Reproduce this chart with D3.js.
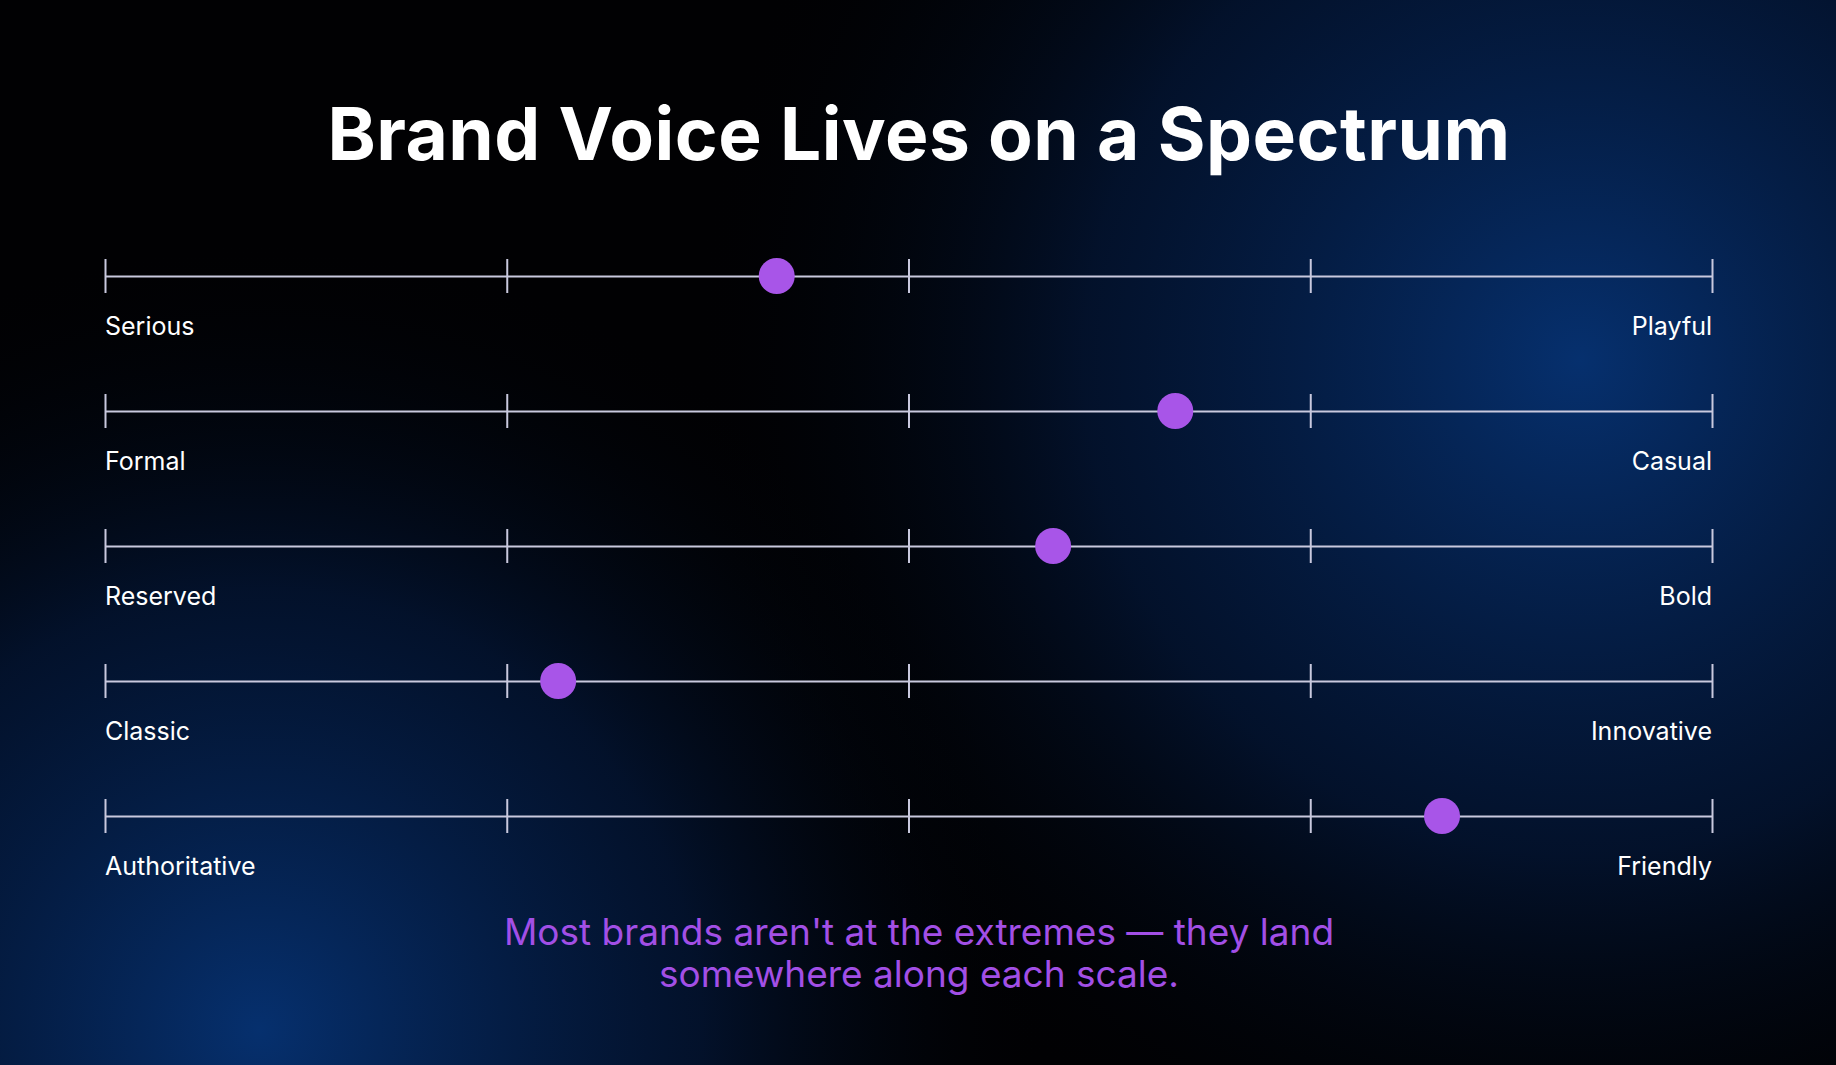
<!DOCTYPE html>
<html>
<head>
<meta charset="utf-8">
<script src="https://d3js.org/d3.v7.min.js"></script>
<style>
  html, body { margin: 0; padding: 0; background: #000; }
</style>
</head>
<body>
<div id="chart"></div>
<script>
var leftLabels = ["Serious", "Formal", "Reserved", "Classic", "Authoritative"];
var rightLabels = ["Playful", "Casual", "Bold", "Innovative", "Friendly"];
var positions = [41.8, 66.6, 59, 28.2, 83.2];
var ticks = [0, 25, 50, 75, 100];
var title = "Brand Voice Lives on a Spectrum";
var note = ["Most brands aren't at the extremes \u2014 they land", "somewhere along each scale."];

var W = 1836, H = 1065;
var svg = d3.select('#chart').append('svg').attr('width', W).attr('height', H);

var defs = svg.append('defs');
function glow(id, cx, cy, r, op) {
  var g = defs.append('radialGradient').attr('id', id)
    .attr('gradientUnits', 'userSpaceOnUse').attr('cx', cx).attr('cy', cy).attr('r', r);
  g.append('stop').attr('offset', 0).attr('stop-color', '#06306e').attr('stop-opacity', op);
  g.append('stop').attr('offset', 0.55).attr('stop-color', '#041c45').attr('stop-opacity', op * 0.6);
  g.append('stop').attr('offset', 1).attr('stop-color', '#000').attr('stop-opacity', 0);
}
glow('g1', 1580, 360, 900, 1);
glow('g2', 260, 1030, 800, 1);
svg.append('rect').attr('width', W).attr('height', H).attr('fill', '#010103');
svg.append('rect').attr('width', W).attr('height', H).attr('fill', 'url(#g1)');
svg.append('rect').attr('width', W).attr('height', H).attr('fill', 'url(#g2)');

svg.append('text').attr('x', 919).attr('y', 160).attr('text-anchor', 'middle')
  .attr('fill', '#fff').attr('font-family', 'Inter, sans-serif').attr('font-weight', 700)
  .attr('font-size', 73).attr('letter-spacing', 0.5).text(title);

var x = d3.scaleLinear().domain([0, 100]).range([105, 1712]);
var y = d3.scalePoint().domain(d3.range(leftLabels.length)).range([276, 816]);

var rows = svg.selectAll('g.row').data(leftLabels).enter().append('g')
  .attr('class', 'row').attr('transform', function(d, i) { return 'translate(0,' + y(i) + ')'; });

rows.each(function(d, i) {
  var g = d3.select(this);
  var axis = d3.axisBottom(x).tickValues(ticks).tickSize(0).tickFormat('');
  var ax = g.append('g').call(axis);
  ax.select('.domain').attr('stroke', '#c9c9de').attr('stroke-width', 2);
  ax.selectAll('.tick line').attr('y1', -17).attr('y2', 17).attr('stroke', '#c9c9de').attr('stroke-width', 2);
  g.append('circle').attr('cx', x(positions[i])).attr('cy', 0).attr('r', 18).attr('fill', '#a855e8');
  g.append('text').attr('x', x(0)).attr('y', 59).attr('fill', '#fff')
    .attr('font-family', 'Inter, sans-serif').attr('font-size', 25).text(leftLabels[i]);
  g.append('text').attr('x', x(100)).attr('y', 59).attr('text-anchor', 'end').attr('fill', '#fff')
    .attr('font-family', 'Inter, sans-serif').attr('font-size', 25).text(rightLabels[i]);
});

svg.selectAll('text.note').data(note).enter().append('text').attr('class', 'note')
  .attr('x', 919).attr('y', function(d, i) { return 945 + i * 42; }).attr('text-anchor', 'middle')
  .attr('fill', '#a24fe6').attr('font-family', 'Inter, sans-serif').attr('font-size', 37)
  .text(function(d) { return d; });
</script>
</body>
</html>
